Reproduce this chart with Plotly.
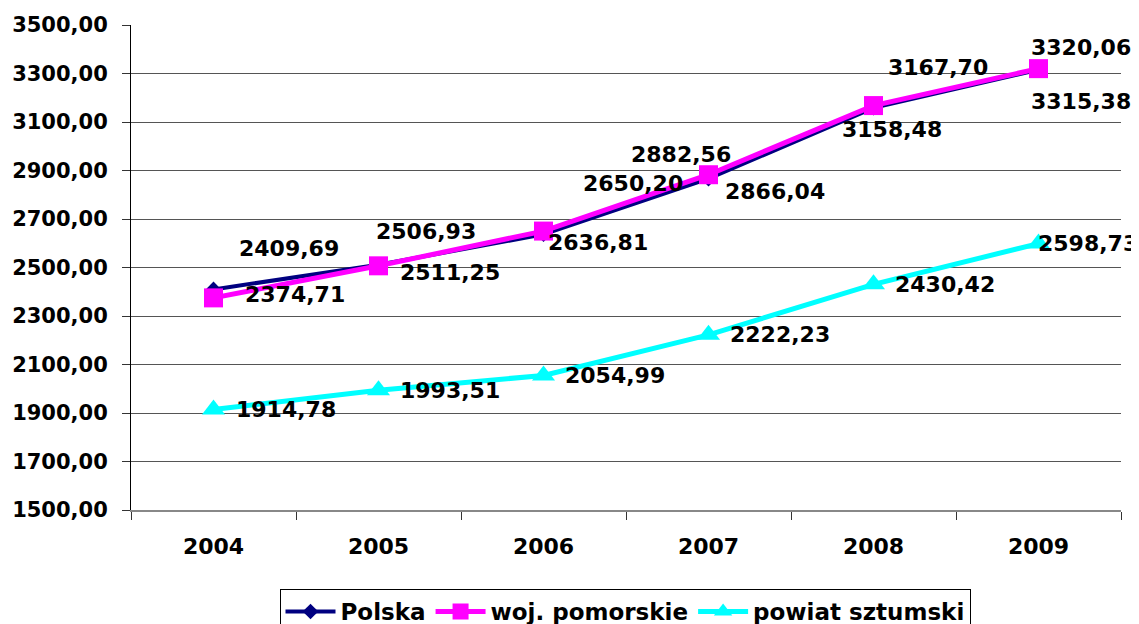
import plotly.graph_objects as go

years = ["2004", "2005", "2006", "2007", "2008", "2009"]
polska = [2409.69, 2511.25, 2636.81, 2866.04, 3158.48, 3315.38]
pomorskie = [2374.71, 2506.93, 2650.20, 2882.56, 3167.70, 3320.06]
sztumski = [1914.78, 1993.51, 2054.99, 2222.23, 2430.42, 2598.73]

y_ticks = [1500, 1700, 1900, 2100, 2300, 2500, 2700, 2900, 3100, 3300, 3500]

# label offsets in px (dx, dy) - hand placed like in the original
label_shift = {
    "Polska": ([75, 71, 54, 66, 18, 42], [41, -8, -8, -13, -22, -32]),
    "woj. pomorskie": ([81, 47, 89, -28, 64, 42], [3, 34, 48, 20, 38, 21]),
    "powiat sztumski": ([72, 71, 71, 71, 71, 49], [0, 0, 0, 0, 0, 0]),
}

FONT = "DejaVu Sans"
series = [
    ("Polska", polska, "#000080", "diamond", 12, 4),
    ("woj. pomorskie", pomorskie, "#FF00FF", "square", 19, 5),
    ("powiat sztumski", sztumski, "#00FFFF", "triangle-up", 20, 5),
]

fig = go.Figure()
annotations = []
for name, vals, color, symbol, msize, lw in series:
    fig.add_trace(go.Scatter(
        x=years, y=vals, name=name, mode="lines+markers",
        line=dict(color=color, width=lw),
        marker=dict(symbol=symbol, size=msize, color=color),
    ))
    dxs, dys = label_shift[name]
    for i, (v, dx, dy) in enumerate(zip(vals, dxs, dys)):
        # category index as x so the axis does not read "2004" as a number
        annotations.append(dict(
            x=i, y=v, xref="x", yref="y", text=f"{v:.2f}".replace(".", ","),
            showarrow=False, xanchor="center", yanchor="middle",
            xshift=dx, yshift=dy,
            font=dict(family=FONT, size=22, color="black", weight="bold"),
        ))

# page body has an 8px margin, so the figure sits 8px right/down
fig.update_layout(
    width=1139, height=624,
    margin=dict(l=123, r=26, t=17, b=122),
    paper_bgcolor="white", plot_bgcolor="white",
    separators=", ",
    annotations=annotations,
    showlegend=True,
    legend=dict(
        orientation="h", x=617 / 1139, xanchor="center", xref="container",
        y=1 - 581 / 624, yanchor="top", yref="container",
        bordercolor="black", borderwidth=1, itemwidth=50,
        font=dict(family=FONT, size=23, color="black", weight="bold"),
        tracegroupgap=0,
    ),
    xaxis=dict(
        type="category", range=[-0.5, 5.5], tickson="boundaries",
        ticks="outside", ticklen=8, automargin=False,
        tickcolor="#333", showline=True, linecolor="#888", linewidth=2,
        showgrid=False, ticklabelstandoff=16, tickangle=0,
        tickfont=dict(family=FONT, size=22, color="black", weight="bold"),
    ),
    yaxis=dict(
        range=[1500, 3500], tickvals=y_ticks, tickformat=".2f",
        ticks="outside", ticklen=8, tickcolor="#333", automargin=False,
        showline=True, linecolor="black", linewidth=1,
        showgrid=True, gridcolor="#555", gridwidth=1, zeroline=False,
        ticklabelstandoff=10,
        tickfont=dict(family=FONT, size=21, color="black", weight="bold"),
    ),
)

fig.write_html("out.html")
